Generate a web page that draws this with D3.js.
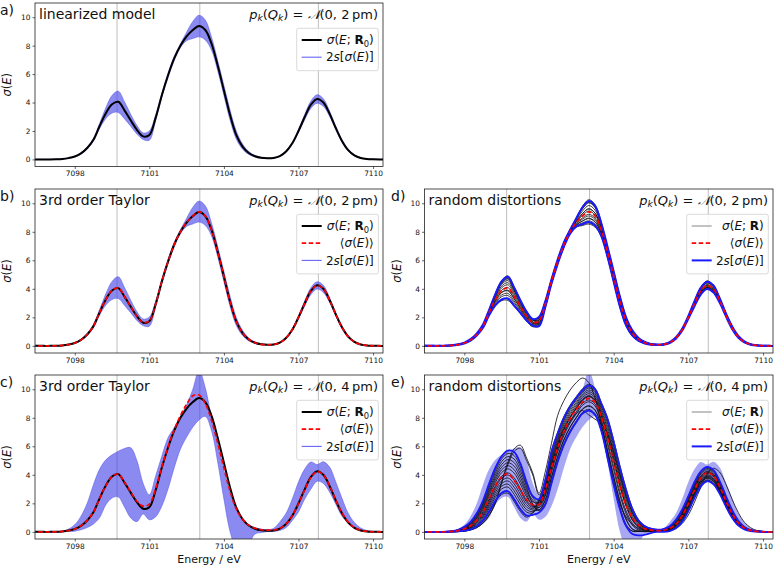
<!DOCTYPE html>
<html><head><meta charset="utf-8">
<script src="https://cdn.jsdelivr.net/npm/d3@7"></script>
<style>body{margin:0;background:#fff}svg text{font-family:"DejaVu Sans",sans-serif;fill:#111}</style>
</head><body><svg id="c" width="775" height="567"></svg>
<script>
// ---------------- data ----------------
const xLimits = [7096.4, 7110.4];
const yLimits = [-0.5, 11];
const xTicks = [7098, 7101, 7104, 7107, 7110];
const yTicks = [0, 2, 4, 6, 8, 10];
const refLines = [7099.7, 7103.03, 7107.8];
const energies = [7096.25,7096.5,7096.75,7097,7097.25,7097.5,7097.75,7098,7098.25,7098.5,7098.75,7099,7099.25,7099.5,7099.75,7100,7100.25,7100.5,7100.75,7101,7101.25,7101.5,7101.75,7102,7102.25,7102.5,7102.75,7103,7103.25,7103.5,7103.75,7104,7104.25,7104.5,7104.75,7105,7105.25,7105.5,7105.75,7106,7106.25,7106.5,7106.75,7107,7107.25,7107.5,7107.75,7108,7108.25,7108.5,7108.75,7109,7109.25,7109.5,7109.75,7110,7110.25,7110.5];

const sigmaR0 = [0,0,0,0, 0.01,0.03,0.09,0.2, 0.42,0.8,1.38,2.35, 3.25,3.88,4.05,3.45, 2.75,2.08,1.62,1.72, 2.9,4.5,5.9,7.1, 8.0,8.65,9.1,9.38, 9.1,8.15,6.6,4.85, 3.1,1.7,0.9,0.45, 0.22,0.11,0.08,0.1, 0.23,0.55,1.13,2.0, 2.98,3.85,4.25,4.0, 3.22,2.21,1.3,0.65, 0.28,0.1,0.03,0.01, 0,0];

// (a) linearized model, 2 pm
const aUpper = [0,0,0,0, 0.02,0.04,0.11,0.23, 0.47,0.87,1.48,2.53, 3.63,4.5,4.8,4.05, 3.17,2.38,1.86,2.0, 3.1,4.65,6.05,7.25, 8.13,8.95,9.7,10.14, 9.8,8.6,6.95,5.2, 3.45,1.98,1.08,0.55, 0.27,0.14,0.1,0.12, 0.26,0.6,1.2,2.1, 3.16,4.11,4.55,4.27, 3.4,2.33,1.4,0.72, 0.32,0.12,0.04,0.01, 0,0];
const aLower = [0,0,0,0, 0,0.02,0.07,0.17, 0.37,0.73,1.28,2.17, 2.87,3.26,3.3,2.85, 2.33,1.78,1.4,1.35, 2.7,4.35,5.75,6.95, 7.87,8.35,8.5,8.62, 8.4,7.7,6.25,4.5, 2.75,1.42,0.72,0.35, 0.17,0.08,0.06,0.08, 0.2,0.5,1.06,1.9, 2.8,3.59,3.95,3.73, 3.04,2.09,1.2,0.58, 0.24,0.08,0.02,0.01, 0,0];

// (b) 3rd order Taylor, 2 pm
const bMean = [0,0,0,0, 0.01,0.03,0.09,0.2, 0.42,0.8,1.38,2.35, 3.25,3.88,4.06,3.46, 2.76,2.09,1.64,1.74, 2.91,4.5,5.9,7.1, 8.0,8.66,9.12,9.4, 9.11,8.15,6.6,4.85, 3.1,1.71,0.91,0.46, 0.22,0.11,0.08,0.1, 0.23,0.55,1.13,2.0, 2.98,3.85,4.24,4.0, 3.22,2.21,1.3,0.65, 0.28,0.1,0.03,0.01, 0,0];
const bUpper = [0,0,0,0, 0.02,0.04,0.11,0.23, 0.47,0.88,1.5,2.55, 3.65,4.52,4.85,4.1, 3.2,2.4,1.88,2.02, 3.12,4.66,6.06,7.26, 8.14,8.95,9.72,10.15, 9.82,8.62,6.97,5.22, 3.46,1.99,1.09,0.56, 0.27,0.14,0.1,0.12, 0.26,0.6,1.2,2.1, 3.15,4.08,4.5,4.25, 3.38,2.32,1.4,0.72, 0.32,0.12,0.04,0.01, 0,0];
const bLower = [0,0,0,0, 0,0.02,0.07,0.17, 0.37,0.72,1.27,2.16, 2.86,3.25,3.32,2.84, 2.32,1.78,1.42,1.38, 2.7,4.35,5.75,6.95, 7.87,8.38,8.55,8.68, 8.45,7.72,6.25,4.5, 2.75,1.42,0.72,0.35, 0.17,0.08,0.06,0.08, 0.2,0.5,1.06,1.9, 2.8,3.6,3.98,3.75, 3.05,2.1,1.2,0.58, 0.24,0.08,0.02,0.01, 0,0];

// (c) 3rd order Taylor, 4 pm
const cMean = [0,0,0,0, 0.01,0.03,0.09,0.2, 0.43,0.81,1.39,2.35, 3.24,3.87,4.05,3.48, 2.8,2.15,1.8,1.95, 3.0,4.55,5.95,7.15, 8.15,8.95,9.55,9.6, 9.0,7.85,6.25,4.5, 2.85,1.6,0.88,0.47, 0.25,0.15,0.12,0.13, 0.25,0.56,1.13,1.99, 2.96,3.82,4.22,4.0, 3.23,2.23,1.33,0.68, 0.3,0.11,0.04,0.01, 0,0];
const cUpper = [0,0,0,0, 0.02,0.05,0.2,0.5, 1.1,2.0,3.3,4.4, 5.05,5.4,5.65,5.85, 5.9,5.0,3.4,2.6, 3.9,5.3,6.6,7.3, 8.1,8.9,10.0,11.3, 10.1,8.0,6.2,4.3, 2.7,1.6,0.85,0.5, 0.3,0.2,0.15,0.25, 0.7,1.3,2.3,3.5, 4.4,4.9,4.72,4.92, 4.55,3.5,2.35,1.3, 0.65,0.27,0.1,0.03, 0,0];
const cLower = [0,0,0,0, 0,0.01,0.03,0.05, 0.15,0.3,0.55,1.0, 1.9,2.38,2.45,1.75, 0.98,0.72,1.25,0.85, 1.05,1.8,3.0,4.5, 5.8,6.65,7.35,7.85, 8.1,7.1,4.9,2.3, 0.0,-1.2,-1.5,-0.9, -0.15,-0.05,0.02,0.04, 0.1,0.3,0.8,1.4, 2.3,3.0,3.55,3.4, 2.8,1.95,1.1,0.65, 0.3,0.12,0.04,0.01, 0,0];

// (d) random distortions, 2 pm
const dMean = bMean, dUpper = bUpper, dLower = bLower;
const dSample1 = [0,0,0,0, 0.02,0.04,0.11,0.23, 0.48,0.88,1.5,2.56, 3.69,4.59,4.91,4.14, 3.23,2.43,1.9,1.97, 3.08,4.64,6.04,7.24, 8.12,8.92,9.64,10.06, 9.73,8.56,6.92,5.17, 3.42,1.95,1.06,0.54, 0.27,0.14,0.1,0.11, 0.25,0.58,1.17,2.06, 3.09,4.01,4.43,4.16, 3.33,2.28,1.36,0.69, 0.3,0.11,0.04,0.01, 0,0];
const dSample2 = [0,0,0,0, 0.01,0.03,0.1,0.22, 0.45,0.84,1.43,2.44, 3.44,4.19,4.43,3.75, 2.96,2.23,1.74,2.04, 3.13,4.67,6.07,7.27, 8.15,9.0,9.79,10.25, 9.91,8.67,7.0,5.25, 3.5,2.02,1.11,0.57, 0.28,0.14,0.1,0.09, 0.22,0.52,1.1,1.95, 2.89,3.72,4.1,3.87, 3.13,2.15,1.25,0.62, 0.26,0.09,0.03,0.01, 0,0];
const dSample3 = [0,0,0,0, 0.01,0.03,0.09,0.19, 0.41,0.79,1.36,2.31, 3.17,3.76,3.9,3.33, 2.67,2.02,1.57,1.8, 2.96,4.55,5.95,7.15, 8.04,8.74,9.28,9.61, 9.31,8.29,6.71,4.96, 3.21,1.78,0.95,0.48, 0.24,0.12,0.09,0.12, 0.26,0.6,1.2,2.1, 3.16,4.11,4.55,4.27, 3.4,2.33,1.4,0.72, 0.32,0.12,0.04,0.01, 0,0];
const dSample4 = [0,0,0,0, 0.01,0.02,0.08,0.18, 0.39,0.75,1.31,2.22, 2.98,3.45,3.53,3.03, 2.46,1.87,1.45,1.55, 2.78,4.41,5.81,7.01, 7.92,8.47,8.74,8.92, 8.68,7.88,6.39,4.64, 2.89,1.53,0.79,0.39, 0.19,0.09,0.07,0.08, 0.2,0.5,1.07,1.91, 2.82,3.62,3.98,3.76, 3.06,2.1,1.21,0.59, 0.24,0.08,0.02,0.01, 0,0];
const dSample5 = [0,0,0,0, 0,0.02,0.07,0.17, 0.36,0.72,1.27,2.14, 2.81,3.17,3.19,2.76, 2.27,1.74,1.34,1.41, 2.68,4.34,5.74,6.94, 7.86,8.32,8.44,8.54, 8.33,7.66,6.22,4.47, 2.72,1.39,0.7,0.34, 0.17,0.08,0.06,0.1, 0.24,0.56,1.14,2.02, 3.02,3.9,4.31,4.05, 3.26,2.23,1.32,0.66, 0.29,0.1,0.03,0.01, 0,0];
const dSample6 = [0,0,0,0, 0.02,0.04,0.11,0.22, 0.46,0.86,1.46,2.49, 3.55,4.38,4.69,3.93, 3.09,2.32,1.82,1.66, 2.86,4.47,5.87,7.07, 7.97,8.59,8.98,9.23, 8.96,8.06,6.53,4.78, 3.03,1.64,0.86,0.43, 0.21,0.1,0.08,0.09, 0.22,0.53,1.11,1.97, 2.93,3.77,4.16,3.92, 3.17,2.17,1.27,0.63, 0.27,0.09,0.03,0.01, 0,0];
const dSample7 = [0,0,0,0, 0.02,0.04,0.11,0.23, 0.47,0.86,1.47,2.51, 3.59,4.44,4.73,3.99, 3.13,2.35,1.84,1.8, 2.96,4.55,5.95,7.15, 8.04,8.74,9.28,9.61, 9.31,8.29,6.71,4.96, 3.21,1.78,0.95,0.48, 0.24,0.12,0.09,0.09, 0.21,0.52,1.08,1.93, 2.85,3.67,4.04,3.81, 3.09,2.13,1.23,0.6, 0.25,0.09,0.02,0.01, 0,0];
const dSample8 = [0,0,0,0, 0.01,0.03,0.1,0.21, 0.44,0.82,1.41,2.4, 3.36,4.07,4.28,3.63, 2.88,2.17,1.69,1.5, 2.74,4.38,5.78,6.98, 7.9,8.41,8.62,8.77, 8.54,7.79,6.32,4.57, 2.82,1.48,0.76,0.37, 0.18,0.09,0.06,0.11, 0.25,0.58,1.17,2.05, 3.07,3.98,4.4,4.14, 3.31,2.27,1.35,0.69, 0.3,0.11,0.04,0.01, 0,0];
const dSample9 = [0,0,0,0, 0.01,0.03,0.08,0.19, 0.4,0.77,1.33,2.26, 3.06,3.57,3.68,3.15, 2.54,1.93,1.5,1.96, 3.07,4.63,6.03,7.23, 8.11,8.91,9.61,10.03, 9.7,8.53,6.9,5.15, 3.4,1.94,1.05,0.54, 0.26,0.14,0.1,0.12, 0.25,0.59,1.19,2.08, 3.12,4.06,4.49,4.22, 3.36,2.31,1.38,0.71, 0.31,0.12,0.04,0.01, 0,0];
const dSample10 = [0,0,0,0, 0,0.02,0.07,0.17, 0.37,0.73,1.28,2.17, 2.87,3.26,3.3,2.85, 2.33,1.78,1.38,1.75, 2.92,4.52,5.92,7.12, 8.01,8.68,9.16,9.46, 9.17,8.2,6.64,4.89, 3.14,1.73,0.92,0.46, 0.22,0.11,0.08,0.09, 0.21,0.52,1.09,1.94, 2.87,3.69,4.07,3.84, 3.11,2.14,1.24,0.61, 0.26,0.09,0.02,0.01, 0,0];
const dSample11 = [0,0,0,0, 0.01,0.03,0.09,0.2, 0.42,0.8,1.39,2.36, 3.27,3.91,4.09,3.48, 2.77,2.1,1.63,1.62, 2.83,4.45,5.85,7.05, 7.95,8.55,8.89,9.11, 8.86,7.99,6.48,4.73, 2.98,1.6,0.84,0.42, 0.2,0.1,0.07,0.1, 0.23,0.55,1.13,2.0, 2.98,3.85,4.25,4.0, 3.22,2.21,1.3,0.65, 0.28,0.1,0.03,0.01, 0,0];
const dSample12 = [0,0,0,0, 0.02,0.04,0.1,0.22, 0.46,0.85,1.45,2.48, 3.52,4.31,4.58,3.87, 3.04,2.29,1.79,1.89, 3.02,4.59,5.99,7.19, 8.08,8.83,9.46,9.84, 9.52,8.42,6.81,5.06, 3.31,1.87,1.01,0.51, 0.25,0.13,0.09,0.1, 0.23,0.55,1.12,1.99, 2.96,3.82,4.22,3.97, 3.2,2.2,1.29,0.64, 0.28,0.1,0.03,0.01, 0,0];
const dSample13 = [0,0,0,0, 0.01,0.03,0.09,0.19, 0.41,0.78,1.36,2.31, 3.16,3.73,3.86,3.3, 2.65,2.01,1.56,1.44, 2.7,4.35,5.75,6.95, 7.87,8.35,8.5,8.62, 8.4,7.7,6.25,4.5, 2.75,1.42,0.72,0.35, 0.17,0.08,0.06,0.09, 0.22,0.53,1.1,1.95, 2.89,3.72,4.1,3.87, 3.13,2.15,1.25,0.62, 0.26,0.09,0.03,0.01, 0,0];
const dSample14 = [0,0,0,0, 0.02,0.04,0.11,0.23, 0.47,0.87,1.48,2.53, 3.63,4.5,4.8,4.05, 3.17,2.38,1.86,1.57, 2.79,4.42,5.82,7.02, 7.93,8.49,8.77,8.96, 8.72,7.9,6.41,4.66, 2.91,1.55,0.8,0.4, 0.19,0.09,0.07,0.12, 0.26,0.6,1.2,2.1, 3.15,4.1,4.54,4.26, 3.39,2.32,1.4,0.72, 0.32,0.12,0.04,0.01, 0,0];

// (e) random distortions, 4 pm
const eMean = [0,0,0,0, 0.01,0.03,0.09,0.21, 0.43,0.82,1.4,2.35, 3.25,3.87,4.08,3.6, 2.95,2.25,1.9,1.92, 2.95,4.5,5.9,7.05, 7.95,8.6,9.1,9.36, 9.1,8.1,6.6,4.9, 3.2,1.85,0.98,0.48, 0.22,0.12,0.09,0.11, 0.24,0.55,1.12,1.98, 2.95,3.78,4.15,3.95, 3.2,2.2,1.3,0.66, 0.28,0.1,0.03,0.01, 0,0];
const eUpper = [0,0,0,0, 0.02,0.05,0.15,0.35, 0.7,1.3,2.2,3.4, 4.5,5.3,5.7,5.6, 4.8,3.5,2.5,2.3, 3.6,5.6,6.9,8.0, 8.8,9.4,9.95,10.25, 10.0,9.0,7.9,6.3, 4.5,2.9,1.6,0.8, 0.4,0.22,0.15,0.2, 0.4,0.85,1.55,2.5, 3.5,4.25,4.55,4.35, 3.6,2.55,1.55,0.8, 0.35,0.13,0.05,0.02, 0,0];
const eLower = [0,0,0,0, 0,0.01,0.03,0.08, 0.18,0.4,0.8,1.45, 2.2,2.75,2.85,2.3, 1.6,1.15,1.2,1.35, 1.9,3.4,4.9,6.1, 7.0,7.7,8.3,8.5, 8.2,7.1,5.2,3.3, 1.6,0.4,-0.15,-0.25, -0.2,-0.08,0.0,0.0, 0.06,0.25,0.7,1.45, 2.4,3.2,3.55,3.35, 2.7,1.8,1.0,0.45, 0.18,0.06,0.02,0, 0,0];
const eTaylorUpper = cUpper, eTaylorLower = cLower;
const eSample1 = [0,0,0,0, 0.02,0.05,0.15,0.36, 0.7,1.3,2.2,3.41, 4.5,5.31,5.71,5.6, 4.8,3.51,2.5,2.21, 3.43,5.38,6.7,7.81, 8.62,9.23,9.79,10.08, 9.82,8.81,7.63,6.0, 4.21,2.65,1.43,0.7, 0.34,0.19,0.14,0.19, 0.38,0.82,1.52,2.46, 3.45,4.21,4.5,4.3, 3.56,2.52,1.53,0.79, 0.35,0.14,0.06,0.02, 0,0];
const eSample2 = [0,0,0,0, 0.02,0.04,0.13,0.32, 0.62,1.17,1.99,3.12, 4.16,4.93,5.28,5.11, 4.32,3.16,1.95,1.5, 1.98,3.51,5.0,6.19, 7.09,7.78,8.38,8.59, 8.29,7.19,5.33,3.45, 1.74,0.52,0.05,0.03, 0.02,0.02,0.03,0.12, 0.26,0.61,1.22,2.09, 3.06,3.84,4.15,3.95, 3.24,2.26,1.34,0.67, 0.29,0.11,0.04,0.01, 0,0];
const eSample3 = [0,0,0,0, 0.01,0.04,0.11,0.28, 0.54,1.03,1.78,2.82, 3.81,4.54,4.85,4.61, 3.84,2.8,2.11,2.07, 3.18,5.05,6.4,7.53, 8.35,8.98,9.55,9.82, 9.55,8.53,7.23,5.55, 3.78,2.28,1.17,0.55, 0.25,0.15,0.08,0.05, 0.09,0.31,0.79,1.56, 2.51,3.31,3.65,3.45, 2.79,1.88,1.06,0.49, 0.2,0.07,0.02,0, 0,0];
const eSample4 = [0,0,0,0, 0.01,0.03,0.1,0.23, 0.47,0.9,1.57,2.53, 3.47,4.16,4.42,4.12, 3.36,2.45,1.92,1.69, 2.49,4.17,5.6,6.76, 7.63,8.29,8.88,9.12, 8.83,7.76,6.14,4.35, 2.61,1.27,0.47,0.12, 0.03,0.03,0.05,0.16, 0.33,0.73,1.39,2.3, 3.28,4.05,4.35,4.15, 3.42,2.41,1.45,0.74, 0.32,0.12,0.05,0.02, 0,0];
const eSample5 = [0,0,0,0, 0.01,0.03,0.08,0.19, 0.39,0.76,1.36,2.23, 3.12,3.77,3.99,3.62, 2.88,2.09,1.72,2.26, 3.52,5.49,6.8,7.91, 8.71,9.32,9.88,10.17, 9.91,8.91,7.77,6.15, 4.36,2.78,1.52,0.76, 0.37,0.21,0.15,0.07, 0.18,0.46,1.0,1.82, 2.78,3.57,3.9,3.7, 3.01,2.07,1.2,0.58, 0.24,0.09,0.03,0.01, 0,0];
const eSample6 = [0,0,0,0, 0.01,0.02,0.06,0.15, 0.31,0.63,1.15,1.94, 2.78,3.39,3.57,3.13, 2.4,1.74,1.53,1.54, 2.24,3.84,5.3,6.48, 7.36,8.04,8.63,8.85, 8.56,7.48,5.74,3.9, 2.18,0.9,0.2,0.04, 0.03,0.03,0.06,0.2, 0.4,0.85,1.56,2.51, 3.5,4.26,4.55,4.35, 3.6,2.56,1.56,0.81, 0.36,0.14,0.06,0.02, 0,0];
const eSample7 = [0,0,0,0, 0,0.01,0.04,0.11, 0.23,0.49,0.94,1.65, 2.43,3.01,3.14,2.63, 1.92,1.39,1.33,1.93, 2.92,4.72,6.1,7.24, 8.08,8.72,9.3,9.56, 9.28,8.24,6.82,5.1, 3.34,1.9,0.91,0.39, 0.16,0.1,0.08,0.05, 0.08,0.28,0.74,1.5, 2.45,3.25,3.6,3.4, 2.74,1.84,1.03,0.47, 0.19,0.06,0.02,0, 0,0];
const eSample8 = [0,0,0,0, 0,0.01,0.03,0.08, 0.18,0.4,0.8,1.45, 2.2,2.75,2.85,2.3, 1.6,1.15,1.2,1.35, 1.9,3.4,4.9,6.1, 7.0,7.7,8.3,8.5, 8.2,7.1,5.2,3.3, 1.6,0.4,0.06,0.03, 0.02,0.02,0.04,0.14, 0.3,0.67,1.3,2.19, 3.17,3.94,4.25,4.05, 3.33,2.33,1.39,0.7, 0.31,0.12,0.05,0.01, 0,0];
const eSample9 = [0,0,0,0, 0.02,0.04,0.12,0.3, 0.58,1.1,1.89,2.97, 3.98,4.73,5.07,4.86, 4.08,2.98,2.21,1.88, 2.84,4.61,6.0,7.15, 7.99,8.64,9.21,9.47, 9.19,8.15,6.69,4.95, 3.2,1.78,0.82,0.33, 0.13,0.09,0.09,0.09, 0.21,0.52,1.09,1.93, 2.9,3.68,4.0,3.8, 3.11,2.14,1.25,0.61, 0.26,0.1,0.04,0.01, 0,0];
const eSample10 = [0,0,0,0, 0.01,0.02,0.07,0.17, 0.35,0.69,1.26,2.09, 2.95,3.58,3.78,3.37, 2.64,1.92,1.62,2.14, 3.3,5.22,6.55,7.67, 8.49,9.1,9.67,9.95, 9.69,8.67,7.43,5.78, 3.99,2.46,1.3,0.62, 0.3,0.17,0.13,0.13, 0.28,0.64,1.26,2.14, 3.12,3.89,4.2,4.0, 3.29,2.29,1.36,0.68, 0.3,0.11,0.05,0.01, 0,0];
const eSample11 = [0,0,0,0, 0,0,0.02,0.05, 0.14,0.3,0.63,1.2, 2.07,3.53,4.88,5.82, 6.08,5.18,4.13,2.7, 4.2,6.2,8.17,9.2, 9.95,10.47,10.79,10.47, 9.37,7.59,5.58,3.57, 1.96,1.04,0.52,0.25, 0.12,0.09,0.1,0.1, 0.23,0.5,1.02,1.8, 2.68,3.47,3.83,3.6, 2.9,1.99,1.17,0.59, 0.25,0.09,0.03,0.01, 0,0];
const eSample12 = [0,0,0,0, 0,0,0.02,0.05, 0.13,0.29,0.61,1.16, 2.0,3.41,4.71,5.63, 5.87,5.0,3.99,2.6, 3.2,4.5,5.9,7.0, 7.75,8.3,8.5,8.2, 7.9,7.6,6.9,5.6, 4.0,2.5,1.35,0.65, 0.3,0.15,0.1,0.08, 0.11,0.24,0.58,1.19, 2.1,3.13,4.04,4.46, 4.2,3.38,2.32,1.37, 0.68,0.29,0.1,0.03, 0.01,0];
const eSample13 = [0,0,0,0, 0,0.01,0.02,0.07, 0.15,0.36,0.73,1.35, 2.09,2.62,2.71,2.13, 1.44,1.03,1.35,2.2, 3.69,5.71,7.0,8.1, 8.89,9.49,10.04,10.35, 10.09,9.1,8.04,6.45, 4.65,3.03,1.7,0.86, 0.43,0.24,0.17,0.1, 0.13,0.37,0.87,1.66, 2.62,3.41,3.75,3.55, 2.88,1.95,1.11,0.52, 0.22,0.08,0.03,0.01, 0,0];
const eSample14 = [0,0,0,0, 0.02,0.05,0.14,0.34, 0.66,1.23,2.1,3.26, 4.33,5.12,5.5,5.35, 4.56,3.33,2.4,2.0, 3.05,4.89,6.25,7.38, 8.22,8.85,9.42,9.69, 9.42,8.38,7.02,5.33, 3.56,2.09,1.04,0.47, 0.21,0.12,0.1,0.07, 0.15,0.4,0.92,1.72, 2.68,3.47,3.8,3.6, 2.93,1.99,1.14,0.54, 0.23,0.08,0.03,0.01, 0,0];
const eSample15 = [0,0,0,0, 0,0.02,0.05,0.13, 0.27,0.56,1.05,1.79, 2.6,3.2,3.35,2.88, 2.16,1.56,1.43,1.76, 2.62,4.34,5.75,6.91, 7.77,8.42,9.01,9.25, 8.97,7.91,6.35,4.58, 2.83,1.46,0.6,0.2, 0.06,0.05,0.07,0.18, 0.36,0.78,1.45,2.38, 3.36,4.13,4.43,4.23, 3.49,2.47,1.49,0.77, 0.34,0.13,0.06,0.02, 0,0];
const eSample16 = [0,0,0,0, 0.01,0.04,0.11,0.26, 0.51,0.96,1.68,2.68, 3.64,4.35,4.64,4.36, 3.6,2.63,1.8,1.55, 2.2,3.79,5.25,6.43, 7.32,8.0,8.59,8.81, 8.52,7.43,5.67,3.83, 2.11,0.84,0.2,0.05, 0.03,0.03,0.05,0.08, 0.19,0.48,1.02,1.85, 2.81,3.6,3.93,3.73, 3.04,2.09,1.21,0.59, 0.25,0.09,0.04,0.01, 0,0];
const eSample17 = [0,0,0,0, 0.01,0.03,0.08,0.21, 0.41,0.81,1.43,2.33, 3.24,3.9,4.14,3.79, 3.04,2.21,1.79,1.9, 2.88,4.67,6.05,7.19, 8.04,8.68,9.25,9.51, 9.24,8.19,6.75,5.03, 3.27,1.84,0.86,0.36, 0.15,0.09,0.09,0.11, 0.25,0.58,1.17,2.03, 3.01,3.78,4.1,3.9, 3.2,2.22,1.31,0.65, 0.28,0.1,0.04,0.01, 0,0];

const dSamples = [dSample1, dSample2, dSample3, dSample4, dSample5, dSample6, dSample7, dSample8, dSample9, dSample10, dSample11, dSample12, dSample13, dSample14];
const eSamples = [eSample1, eSample2, eSample3, eSample4, eSample5, eSample6, eSample7, eSample8, eSample9, eSample10, eSample11, eSample12, eSample13, eSample14, eSample15, eSample16, eSample17];

// ---------------- drawing ----------------
const svg = d3.select('#c');
const L = {x0: 35, x1: 383}, R = {x0: 424.5, x1: 773};
const rows = [[3, 166.5], [189, 353], [375, 539]];
const BLUE_FILL = 'rgb(60,60,230)';
const FS = 14;

function pts(arr) { return energies.map((e, i) => [e, arr[i]]).filter(d => d[1] != null); }
function addMath(t, parts, size) {
  let shift = 0;
  parts.forEach(([s, st]) => {
    const ts = t.append('tspan').text(s);
    let target = 0, fs = size;
    if (st === 'sub' || st === 'subi') { target = size * 0.22; fs = size * 0.7; }
    const dy = target - shift; shift = target;
    if (dy) ts.attr('dy', dy.toFixed(2));
    ts.attr('font-size', fs);
    if (st === 'i' || st === 'subi') ts.attr('font-style', 'italic');
    if (st === 'b') ts.attr('font-weight', 'bold');
    if (st === 'cal') ts.attr('font-family', '"DejaVu Serif","DejaVu Sans",serif').attr('font-style', 'italic');
  });
  return t;
}
const LBL = {
  R0: [['σ','i'],['(','n'],['E','i'],['; ','n'],['R','b'],['0','sub'],[')','n']],
  R: [['σ','i'],['(','n'],['E','i'],['; ','n'],['R','b'],[')','n']],
  mean: [['⟨','n'],['σ','i'],['(','n'],['E','i'],[')','n'],['⟩','n']],
  s2: [['2','n'],['s','i'],['[','n'],['σ','i'],['(','n'],['E','i'],[')','n'],[']','n']]
};
function title(pm) { return [['p','i'],['k','subi'],['(','n'],['Q','i'],['k','subi'],[') = ','n'],['𝒩','cal'],['(0, ' + pm + '\u2009pm)','n']]; }

function panel(cfg) {
  const {col, row, id, name, pm} = cfg;
  const x0 = col.x0, x1 = col.x1, y0 = rows[row][0], y1 = rows[row][1];
  const sx = d3.scaleLinear().domain(xLimits).range([x0, x1]);
  const sy = d3.scaleLinear().domain(yLimits).range([y1, y0]);
  const g = svg.append('g');
  const cid = 'clip' + id;
  svg.append('clipPath').attr('id', cid).append('rect').attr('x', x0).attr('y', y0).attr('width', x1 - x0).attr('height', y1 - y0);
  const pg = g.append('g').attr('clip-path', `url(#${cid})`);
  const line = d3.line().x(d => sx(d[0])).y(d => sy(d[1])).curve(d3.curveCatmullRom);
  const area = (lo, hi) => d3.area().x(d => sx(d[0])).y0(d => sy(d[1])).y1(d => sy(d[2])).curve(d3.curveCatmullRom)(energies.map((e, i) => [e, lo[i], hi[i]]));
  pg.selectAll('.ref').data(refLines).enter().append('line')
    .attr('x1', d => sx(d)).attr('x2', d => sx(d)).attr('y1', y0).attr('y2', y1)
    .attr('stroke', '#8a8a8a').attr('stroke-width', 1).attr('opacity', 0.55);
  cfg.draw(pg, line, area);
  g.append('rect').attr('x', x0).attr('y', y0).attr('width', x1 - x0).attr('height', y1 - y0)
    .attr('fill', 'none').attr('stroke', '#222').attr('stroke-width', 0.8);
  const ax = g.append('g').attr('transform', `translate(0,${y1})`)
    .call(d3.axisBottom(sx).tickValues(xTicks).tickFormat(d3.format('d')).tickSize(2.5).tickPadding(2));
  const ay = g.append('g').attr('transform', `translate(${x0},0)`)
    .call(d3.axisLeft(sy).tickValues(yTicks).tickSize(2.5).tickPadding(2));
  [ax, ay].forEach(a => {
    a.select('.domain').remove();
    a.attr('font-family', '"DejaVu Sans",sans-serif').attr('font-size', 7.4);
    a.selectAll('line').attr('stroke', '#222').attr('stroke-width', 0.7);
    a.selectAll('text').attr('fill', '#222');
  });
  addMath(g.append('text').attr('transform', `translate(${x0 - 24},${(y0 + y1) / 2}) rotate(-90)`)
    .attr('text-anchor', 'middle'), [['σ','i'],['(','n'],['E','i'],[')','n']], 11.5);
  if (row === 2) {
    g.append('text').attr('x', (x0 + x1) / 2).attr('y', 563).attr('text-anchor', 'middle')
      .attr('font-size', 11).text('Energy / eV');
  }
  g.append('text').attr('x', col === L ? 0 : 391).attr('y', y0 + 12).attr('font-size', 14).text(id + ')');
  g.append('text').attr('x', x0 + 4).attr('y', y0 + 15.5).attr('font-size', FS).text(name);
  addMath(g.append('text').attr('x', x1 - 5).attr('y', y0 + 15.5).attr('text-anchor', 'end'), title(pm), 13);
  const n = cfg.legend.length;
  const bx1 = x1 - 4.7, bx0 = bx1 - 81.6, by0 = y0 + 25.3;
  const lg = g.append('g');
  lg.append('rect').attr('x', bx0).attr('y', by0).attr('width', bx1 - bx0).attr('height', 8 + n * 17.2)
    .attr('rx', 2).attr('fill', 'white').attr('fill-opacity', 0.85).attr('stroke', '#cfcfcf').attr('stroke-width', 0.8);
  cfg.legend.forEach((it, k) => {
    const cy = y0 + 37 + k * 17.2;
    lg.append('line').attr('x1', bx0 + 5).attr('x2', bx0 + 25).attr('y1', cy).attr('y2', cy)
      .attr('stroke', it.c).attr('stroke-width', it.w).attr('stroke-dasharray', it.dash || null).attr('opacity', it.o || 1);
    addMath(lg.append('text').attr('x', bx1 - 4.5).attr('y', cy + 4.2).attr('text-anchor', 'end'), LBL[it.l], 12);
  });
}

const legBlack = {c: '#000', w: 2, l: 'R0'};
const legMean = {c: 'red', w: 1.8, l: 'mean', dash: '4.5,2.5'};
const legBandThin = {c: 'rgb(100,100,245)', w: 1.1, l: 's2'};
const legThin = {c: '#444', w: 0.8, l: 'R', o: 0.8};
const legBlue = {c: '#1a1aff', w: 2, l: 's2'};

function band(pg, area, lo, hi, op) {
  pg.append('path').attr('d', area(lo, hi)).attr('fill', BLUE_FILL).attr('fill-opacity', op);
}
function edge(pg, line, arr) {
  pg.append('path').attr('d', line(pts(arr))).attr('fill', 'none').attr('stroke', 'rgb(90,90,235)').attr('stroke-width', 0.7).attr('opacity', 0.8);
}
function curve(pg, line, arr, stroke, w, dash, op) {
  pg.append('path').attr('d', line(pts(arr))).attr('fill', 'none').attr('stroke', stroke).attr('stroke-width', w)
    .attr('stroke-dasharray', dash || null).attr('opacity', op || 1).attr('stroke-linejoin', 'round');
}

panel({col: L, row: 0, id: 'a', name: 'linearized model', pm: '2', legend: [legBlack, legBandThin],
  draw: (pg, line, area) => {
    band(pg, area, aLower, aUpper, 0.6); edge(pg, line, aLower); edge(pg, line, aUpper);
    curve(pg, line, sigmaR0, '#000', 2);
  }});
panel({col: L, row: 1, id: 'b', name: '3rd order Taylor', pm: '2', legend: [legBlack, legMean, legBandThin],
  draw: (pg, line, area) => {
    band(pg, area, bLower, bUpper, 0.6); edge(pg, line, bLower); edge(pg, line, bUpper);
    curve(pg, line, sigmaR0, '#000', 2);
    curve(pg, line, bMean, 'red', 1.7, '4.5,2.5');
  }});
panel({col: L, row: 2, id: 'c', name: '3rd order Taylor', pm: '4', legend: [legBlack, legMean, legBandThin],
  draw: (pg, line, area) => {
    band(pg, area, cLower, cUpper, 0.6); edge(pg, line, cLower); edge(pg, line, cUpper);
    curve(pg, line, sigmaR0, '#000', 2);
    curve(pg, line, cMean, 'red', 1.7, '4.5,2.5');
  }});
panel({col: R, row: 1, id: 'd', name: 'random distortions', pm: '2', legend: [legThin, legMean, legBlue],
  draw: (pg, line, area) => {
    dSamples.forEach(s => curve(pg, line, s, '#111118', 1.0, null, 0.8));
    curve(pg, line, dUpper, '#1a1aff', 2); curve(pg, line, dLower, '#1a1aff', 2);
    curve(pg, line, dMean, 'red', 1.7, '4.5,2.5');
  }});
panel({col: R, row: 2, id: 'e', name: 'random distortions', pm: '4', legend: [legThin, legMean, legBlue],
  draw: (pg, line, area) => {
    band(pg, area, eTaylorLower, eTaylorUpper, 0.45);
    eSamples.forEach(s => curve(pg, line, s, '#10101e', 1.0, null, 0.85));
    curve(pg, line, eUpper, '#1a1aff', 1.8); curve(pg, line, eLower, '#1a1aff', 1.8);
    curve(pg, line, eMean, 'red', 1.7, '4.5,2.5');
  }});
</script></body></html>
